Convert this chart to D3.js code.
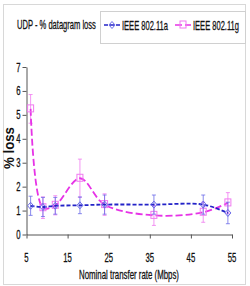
<!DOCTYPE html>
<html>
<head>
<script src="https://cdn.jsdelivr.net/npm/d3@7"></script>
<style>
body { margin: 0; background: #fff; }
text { font-family: "Liberation Sans", Arial, sans-serif; }
</style>
</head>
<body>
<div id="chart"></div>
<script>
// data
var rates = [6, 9, 12, 18, 24, 36, 48, 54];
var lossA = [1.2, 1.15, 1.2, 1.22, 1.25, 1.25, 1.25, 0.9];
var errA  = [0.4, 0.4, 0.35, 0.35, 0.4, 0.4, 0.4, 0.45];
var lossG = [5.25, 1.12, 1.22, 2.35, 1.25, 0.8, 0.93, 1.32];
var errG  = [0.6, 0.45, 0.4, 0.8, 0.45, 0.42, 0.42, 0.43];
var xTicks = [5, 15, 25, 35, 45, 55];
var yTicks = [0, 1, 2, 3, 4, 5, 6, 7];

var W = 250, H = 286;
var svg = d3.select("#chart").append("svg")
    .attr("width", W)
    .attr("height", H);

// outer frame
svg.append("rect")
    .attr("x", 3.5).attr("y", 4.5)
    .attr("width", 242).attr("height", 280)
    .attr("fill", "none").attr("stroke", "#d8d8d8");

var x = d3.scaleLinear().domain([5, 55]).range([26.5, 232]);
var y = d3.scaleLinear().domain([0, 7]).range([234.5, 67]);

// narrow-looking text: squeeze horizontally with a transform
function label(parent, tx, ty, str, width, anchor, size) {
  var g = parent.append("g").attr("transform", "translate(" + tx + "," + ty + ")");
  var t = g.append("text")
      .style("font-size", (size || 13) + "px")
      .attr("text-anchor", anchor || "start")
      .attr("fill", "#111").attr("stroke", "#111").attr("stroke-width", 0.3)
      .text(str);
  var w = t.node().getComputedTextLength();
  t.attr("transform", "scale(" + (width / w) + ",1)");
  return g;
}

// axes (lines only, labels drawn as squeezed text)
var gx = svg.append("g")
    .attr("transform", "translate(0," + y(0) + ")")
    .call(d3.axisBottom(x).tickValues(xTicks).tickFormat("").tickSize(4).tickSizeOuter(0));
var gy = svg.append("g")
    .attr("transform", "translate(" + x(5) + ",0)")
    .call(d3.axisLeft(y).tickValues(yTicks).tickFormat("").tickSize(4).tickSizeOuter(0));
[gx, gy].forEach(function(g) {
  g.select(".domain").attr("stroke", "#555");
  g.selectAll(".tick line").attr("stroke", "#555");
});
xTicks.forEach(function(v) {
  label(svg, x(v), 262, String(v), String(v).length * 4.3, "middle");
});
yTicks.forEach(function(v) {
  label(svg, x(5) - 6, y(v) + 4.5, String(v), 4.3, "end");
});

label(svg, 129, 279, "Nominal transfer rate (Mbps)", 100, "middle");

svg.append("text")
    .attr("transform", "translate(14,148) rotate(-90)")
    .attr("text-anchor", "middle")
    .style("font-size", "14px")
    .style("font-weight", "bold")
    .attr("fill", "#111")
    .text("% loss")
    .attr("textLength", 42).attr("lengthAdjust", "spacingAndGlyphs");

var line = d3.line()
    .curve(d3.curveCatmullRom.alpha(0.5))
    .x(function(d) { return x(d[0]); })
    .y(function(d) { return y(d[1]); });

function series(vals, errs, col, errCol, dash, shape) {
  var pts = rates.map(function(r, i) { return [r, vals[i], errs[i]]; });
  var g = svg.append("g");
  // error bars
  pts.forEach(function(p) {
    var cx = x(p[0]);
    var top = y(p[1] + p[2]), bot = y(p[1] - p[2]);
    g.append("line").attr("x1", cx).attr("x2", cx).attr("y1", top).attr("y2", bot)
      .attr("stroke", errCol).attr("stroke-width", 0.8);
    [top, bot].forEach(function(yy) {
      g.append("line").attr("x1", cx - 2).attr("x2", cx + 2).attr("y1", yy).attr("y2", yy)
        .attr("stroke", errCol).attr("stroke-width", 0.8);
    });
  });
  g.append("path")
    .datum(pts)
    .attr("d", line)
    .attr("fill", "none")
    .attr("stroke", col)
    .attr("stroke-width", 1.8)
    .attr("stroke-dasharray", dash);
  pts.forEach(function(p) {
    drawMarker(g, shape, x(p[0]), y(p[1]), errCol);
  });
}

function drawMarker(g, shape, cx, cy, col) {
  if (shape === "diamond") {
    g.append("path")
      .attr("d", "M" + cx + "," + (cy - 3.5) + "L" + (cx + 3) + "," + cy + "L" + cx + "," + (cy + 3.5) + "L" + (cx - 3) + "," + cy + "Z")
      .attr("fill", "none").attr("stroke", col).attr("stroke-width", 1);
  } else {
    g.append("rect")
      .attr("x", cx - 3).attr("y", cy - 4).attr("width", 6).attr("height", 7)
      .attr("fill", "none").attr("stroke", col).attr("stroke-width", 1);
  }
}

series(lossG, errG, "#e633e6", "#f07af0", "7,3", "square");
series(lossA, errA, "#2323c8", "#6b6be8", "4,2", "diamond");

// legend
label(svg, 17, 29, "UDP - % datagram loss", 79);

svg.append("rect")
    .attr("x", 100.5).attr("y", 11.5)
    .attr("width", 145).attr("height", 32)
    .attr("fill", "none").attr("stroke", "#d0d0d0");

var legendItems = [
  { name: "IEEE 802.11a", col: "#2323c8", mcol: "#6b6be8", dash: "4,2", shape: "diamond", x: 104 },
  { name: "IEEE 802.11g", col: "#e633e6", mcol: "#f07af0", dash: "7,3", shape: "square", x: 175 }
];
legendItems.forEach(function(d) {
  svg.append("line")
    .attr("x1", d.x).attr("x2", d.x + 16).attr("y1", 25).attr("y2", 25)
    .attr("stroke", d.col).attr("stroke-width", 1.5).attr("stroke-dasharray", d.dash);
  drawMarker(svg, d.shape, d.x + 8, 25, d.mcol);
  label(svg, d.x + 18, 29.5, d.name, 46);
});
</script>
</body>
</html>
